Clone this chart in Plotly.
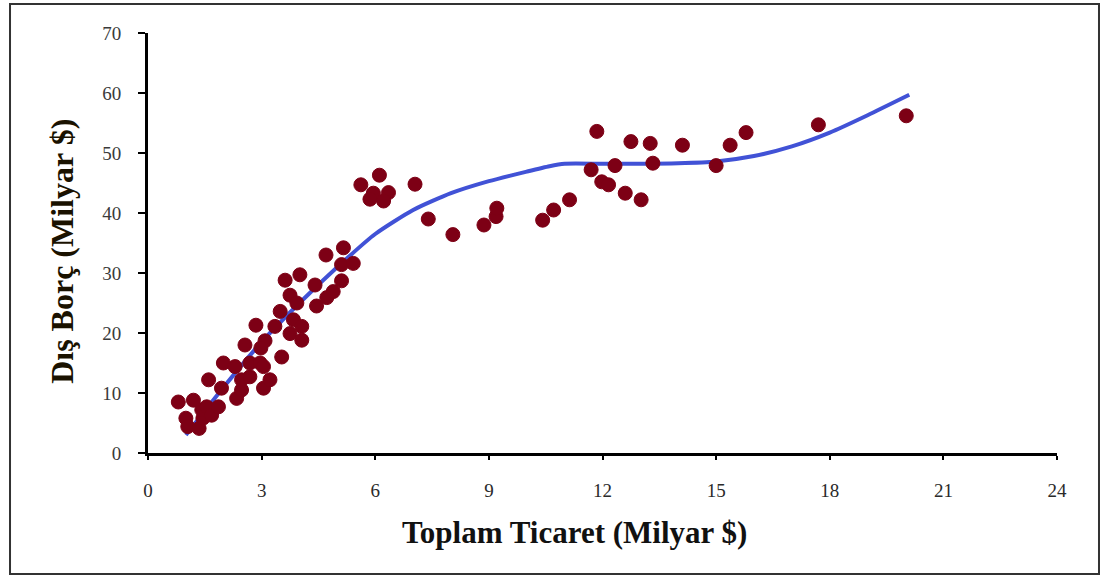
import plotly.graph_objects as go

# Scatter data: Toplam Ticaret (x) vs Dış Borç (y), Milyar $
trade = [0.8, 1.2, 1.0, 1.05, 1.35, 1.45, 1.42, 1.55, 1.68, 1.86,
         1.6, 1.94, 2.34, 1.99, 2.30, 2.47, 2.47, 2.69, 2.69, 2.96,
         3.05, 3.22, 3.05, 2.56, 2.85, 3.09, 2.98, 3.35, 3.53, 3.49,
         3.62, 3.75, 3.93, 3.84, 4.06, 3.75, 4.06, 4.01, 4.41, 4.45,
         4.72, 4.89, 5.11, 4.70, 5.16, 5.11, 5.42, 5.62, 6.11, 5.95,
         6.35, 5.86, 6.22, 7.05, 7.40, 8.05, 8.87, 9.19, 9.21, 10.42,
         10.71, 11.13, 11.70, 11.85, 11.98, 12.16, 12.33, 12.60, 12.75, 13.02,
         13.26, 13.33, 14.11, 15.0, 15.37, 15.79, 17.7, 20.02]
debt = [8.5, 8.8, 5.8, 4.4, 4.1, 5.8, 7.2, 7.7, 6.3, 7.7,
        12.2, 10.8, 9.1, 15.0, 14.4, 12.2, 10.5, 12.7, 15.0, 15.0,
        10.8, 12.2, 14.4, 18.0, 21.3, 18.7, 17.5, 21.1, 16.0, 23.6,
        28.8, 26.3, 25.0, 22.2, 21.1, 19.9, 18.8, 29.7, 28.0, 24.5,
        25.9, 26.9, 28.7, 33.0, 34.2, 31.4, 31.6, 44.7, 46.3, 43.3,
        43.4, 42.3, 42.0, 44.8, 39.0, 36.4, 38.0, 39.4, 40.8, 38.8,
        40.5, 42.2, 47.2, 53.6, 45.2, 44.7, 47.9, 43.3, 51.9, 42.2,
        51.6, 48.3, 51.3, 47.9, 51.3, 53.4, 54.7, 56.2]

# Fitted curve
fit_x = [1.0, 2.0, 3.0, 4.0, 5.0, 6.0, 7.0, 8.0, 9.0, 10.0,
         10.6, 11.0, 12.0, 13.0, 14.0, 15.0, 16.0, 17.0, 18.0, 19.0, 20.1]
fit_y = [3.0, 11.0, 18.5, 25.0, 31.0, 36.5, 40.5, 43.3, 45.3, 46.9,
         47.8, 48.2, 48.2, 48.2, 48.3, 48.6, 49.5, 51.1, 53.4, 56.3, 59.7]

x_ticks = [0, 3, 6, 9, 12, 15, 18, 21, 24]
y_ticks = [0, 10, 20, 30, 40, 50, 60, 70]

x_title = "Toplam Ticaret (Milyar $)"
y_title = "Dış Borç (Milyar $)"

fig = go.Figure()
fig.add_trace(go.Scatter(
    x=fit_x, y=fit_y, mode="lines",
    line=dict(color="#4152d6", width=4, shape="spline", smoothing=0.6),
    showlegend=False, hoverinfo="skip"))
fig.add_trace(go.Scatter(
    x=trade, y=debt, mode="markers",
    marker=dict(symbol="circle", size=14, color="#7d0015", line=dict(color="#7d0015", width=1)),
    showlegend=False))

serif = "Liberation Serif, Times New Roman, serif"

fig.update_layout(
    width=1102, height=577,
    margin=dict(l=148, r=45, t=33, b=124),
    paper_bgcolor="white", plot_bgcolor="white",
    font=dict(family=serif),
    xaxis=dict(range=[0, 24], tickvals=x_ticks, showgrid=False, zeroline=False,
               showline=True, linecolor="black", linewidth=3,
               ticks="outside", ticklen=4, tickwidth=2, tickcolor="black",
               ticklabelstandoff=14,
               tickfont=dict(family=serif, size=19, color="#2a2a2a")),
    yaxis=dict(range=[0, 70], tickvals=y_ticks, showgrid=False, zeroline=False,
               showline=True, linecolor="black", linewidth=3,
               ticks="outside", ticklen=7, tickwidth=2, tickcolor="black",
               ticklabelstandoff=13,
               tickfont=dict(family=serif, size=19, color="#3a3a3a")),
    annotations=[
        dict(text="<b>%s</b>" % x_title, xref="paper", yref="paper", x=0.4697, y=-0.19,
             xanchor="center", yanchor="middle", showarrow=False,
             font=dict(family=serif, size=31, color="#111111")),
        dict(text="<b>%s</b>" % y_title, xref="paper", yref="paper", x=-0.0946, y=0.479,
             xanchor="center", yanchor="middle", showarrow=False, textangle=-90,
             font=dict(family=serif, size=32, color="#1a1200")),
    ],
    shapes=[dict(type="rect", xref="paper", yref="paper",
                 x0=-0.1518, x1=1.0462, y0=-0.288, y1=1.069,
                 line=dict(color="#333333", width=2), fillcolor="rgba(0,0,0,0)")],
)

fig.write_html("out.html", config={"displayModeBar": False},
               post_script="document.body.style.margin='0px';")
